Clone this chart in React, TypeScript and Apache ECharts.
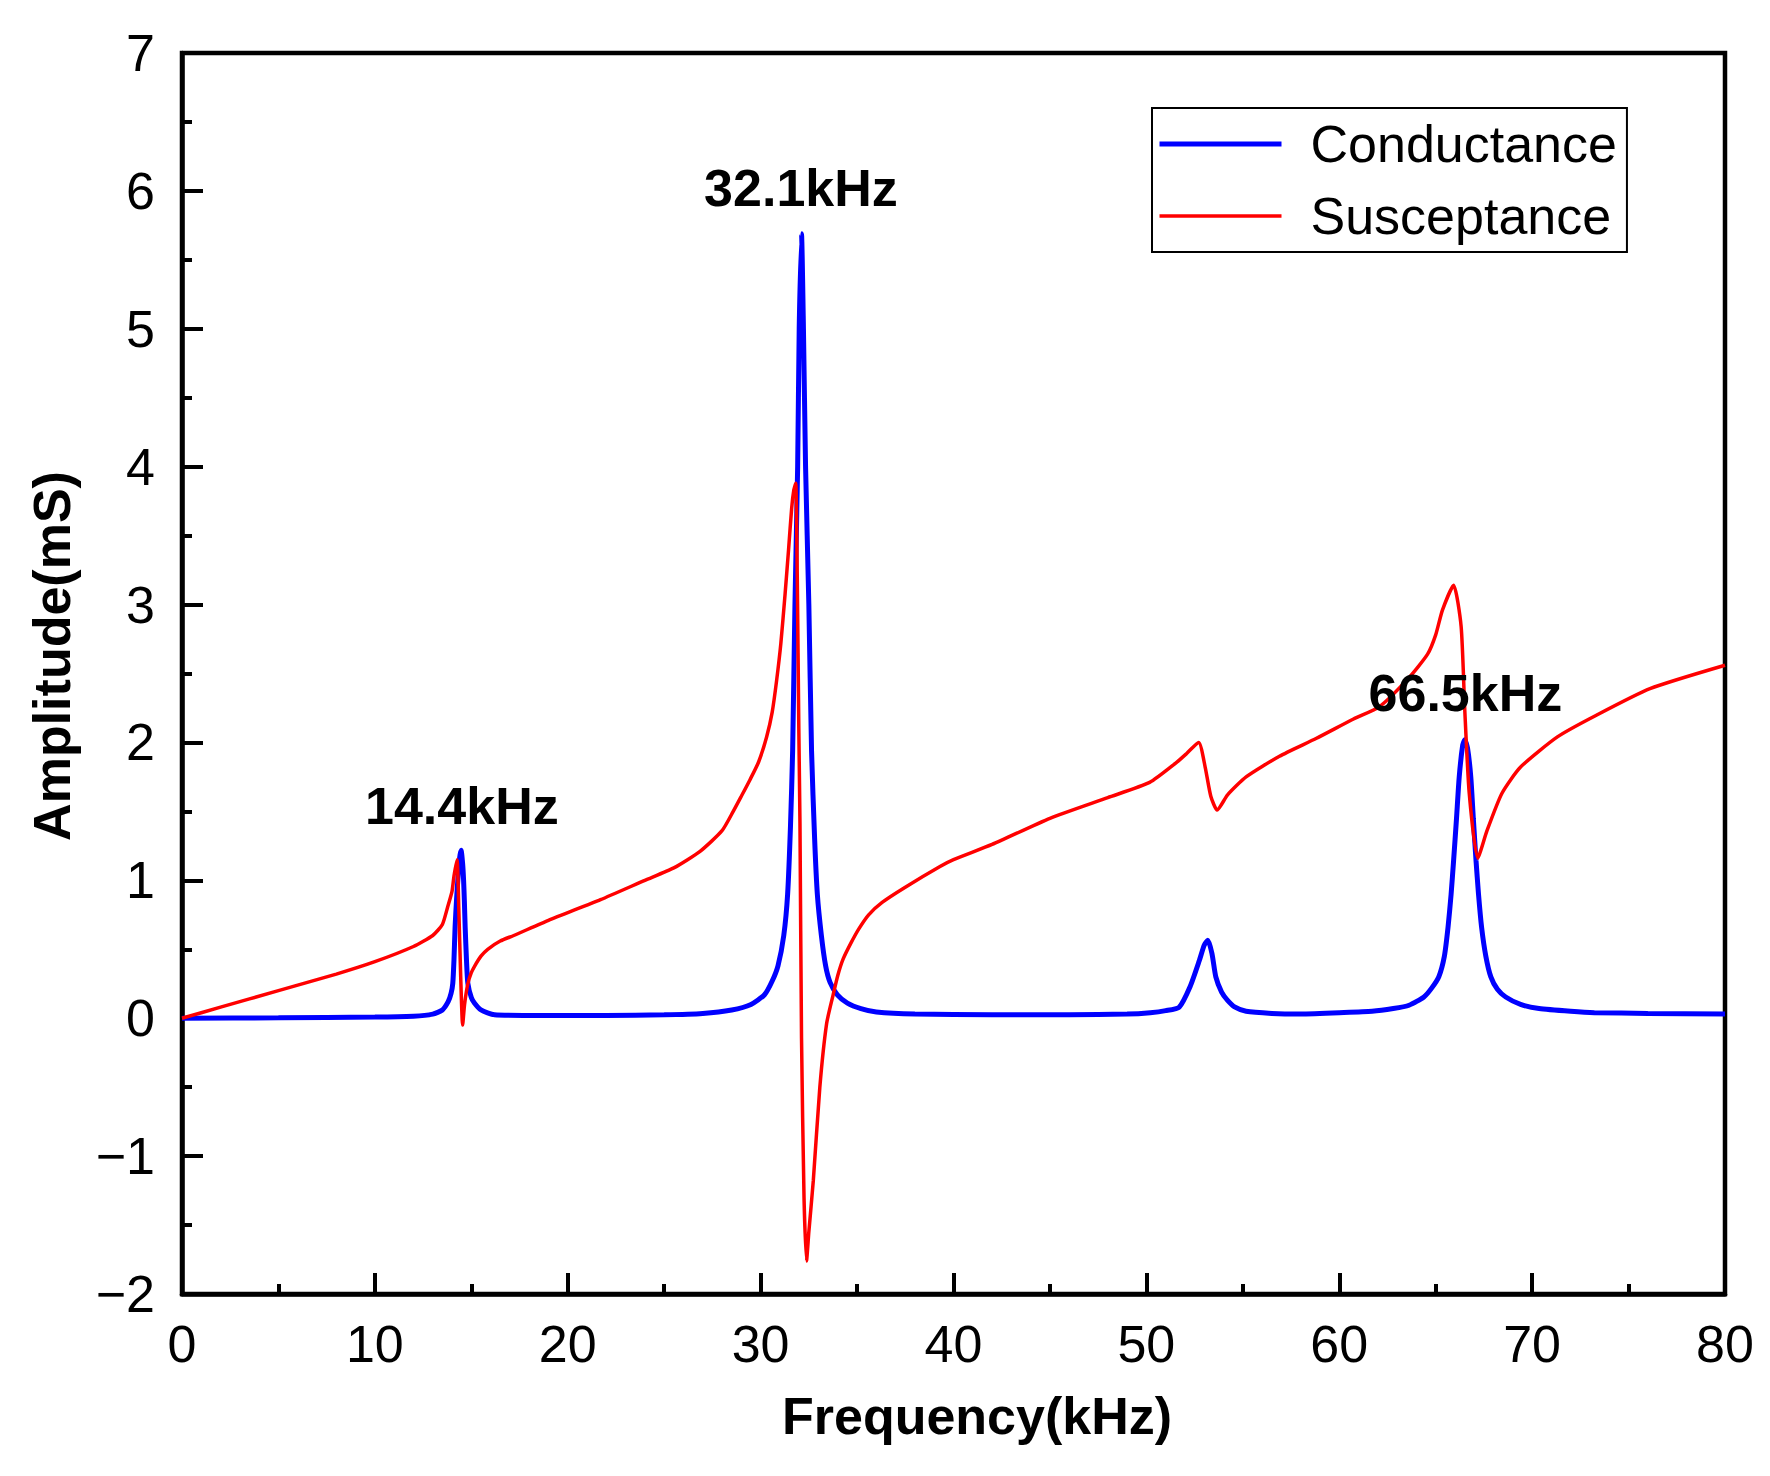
import React, { useEffect, useRef } from "react";
import * as echarts from "echarts";

// Conductance (blue)
const condFreq = [0, 5, 10, 12, 13, 13.5, 13.8, 13.95, 14.04, 14.1, 14.16, 14.23, 14.3, 14.38, 14.47, 14.55, 14.6, 14.64, 14.68, 14.75, 14.82, 15.0, 15.16, 15.5, 16.2, 18, 22, 25, 27, 28.5, 29.5, 30.2, 30.6, 30.9, 31.2, 31.4, 31.55, 31.66, 31.78, 31.92, 32.0, 32.12, 32.22, 32.33, 32.5, 32.64, 32.8, 32.94, 33.15, 33.37, 33.6, 33.98, 34.5, 35.2, 36, 38, 42, 46, 49, 50.2, 51.0, 51.7, 52.27, 52.75, 53.0, 53.19, 53.4, 53.6, 53.9, 54.21, 54.6, 55.17, 56.5, 57.86, 60, 61.7, 62.8, 63.62, 64.39, 64.8, 65.16, 65.45, 65.64, 65.8, 65.93, 66.08, 66.22, 66.4, 66.51, 66.65, 66.82, 66.95, 67.09, 67.22, 67.38, 67.6, 67.86, 68.2, 68.63, 69.4, 70.36, 72, 73.23, 76, 80];
const condValue = [0, 0.003, 0.008, 0.015, 0.03, 0.06, 0.12, 0.18, 0.254, 0.42, 0.665, 0.85, 1.0, 1.15, 1.218, 1.12, 1.0, 0.85, 0.665, 0.42, 0.254, 0.15, 0.11, 0.06, 0.025, 0.02, 0.02, 0.025, 0.035, 0.06, 0.1, 0.17, 0.27, 0.38, 0.6, 0.9, 1.4, 1.94, 3.0, 4.0, 5.0, 5.69, 5.0, 4.0, 3.0, 1.94, 1.3, 0.9, 0.6, 0.38, 0.26, 0.17, 0.11, 0.07, 0.045, 0.03, 0.025, 0.025, 0.03, 0.04, 0.055, 0.08, 0.23, 0.42, 0.53, 0.566, 0.47, 0.3, 0.19, 0.13, 0.08, 0.05, 0.035, 0.03, 0.04, 0.05, 0.07, 0.094, 0.154, 0.22, 0.3, 0.45, 0.66, 0.9, 1.146, 1.45, 1.75, 1.98, 2.02, 1.96, 1.75, 1.45, 1.146, 0.9, 0.66, 0.45, 0.3, 0.21, 0.154, 0.1, 0.07, 0.05, 0.04, 0.035, 0.03];

// Susceptance (red)
const suscFreq = [0, 2, 5, 8, 10, 12, 13, 13.5, 13.78, 14.0, 14.1, 14.26, 14.35, 14.45, 14.55, 14.65, 14.82, 15.0, 15.16, 15.5, 15.85, 16.5, 17.2, 19, 21.7, 24, 25.5, 26.86, 28.0, 28.58, 29.0, 29.45, 29.9, 30.31, 30.6, 30.83, 31.05, 31.27, 31.45, 31.61, 31.72, 31.82, 31.9, 31.98, 32.04, 32.12, 32.25, 32.38, 32.5, 32.73, 33.07, 33.42, 33.76, 34.0, 34.28, 34.7, 35.1, 35.6, 36.3, 37.5, 39.3, 40, 42, 45, 48, 50.17, 51.52, 52.09, 52.71, 53.05, 53.34, 53.67, 54.21, 55.17, 56.9, 58.82, 60.74, 62.09, 63.62, 64.58, 65.0, 65.35, 65.93, 66.32, 66.51, 66.74, 67.18, 67.66, 68.43, 69.39, 71.31, 73.23, 76.11, 80];
const suscValue = [0, 0.08, 0.2, 0.32, 0.41, 0.52, 0.6, 0.68, 0.81, 0.92, 1.03, 1.15, 0.8, 0.3, -0.05, 0.1, 0.25, 0.33, 0.375, 0.45, 0.5, 0.56, 0.6, 0.71, 0.86, 1.0, 1.09, 1.21, 1.36, 1.5, 1.61, 1.73, 1.86, 2.04, 2.22, 2.45, 2.72, 3.08, 3.4, 3.7, 3.83, 3.88, 3.2, 2.1, 1.41, -0.14, -1.3, -1.76, -1.55, -1.18, -0.5, -0.04, 0.17, 0.31, 0.43, 0.55, 0.65, 0.75, 0.84, 0.95, 1.1, 1.15, 1.26, 1.45, 1.6, 1.71, 1.85, 1.92, 2.0, 1.82, 1.61, 1.51, 1.62, 1.75, 1.9, 2.03, 2.17, 2.26, 2.47, 2.64, 2.78, 2.96, 3.14, 2.84, 2.23, 1.63, 1.16, 1.36, 1.63, 1.82, 2.04, 2.19, 2.39, 2.56];

// Peak annotations (label centre in data space)
const annoText = ["14.4kHz", "32.1kHz", "66.5kHz"];
const annoFreq = [14.51, 32.09, 66.54];
const annoValue = [1.54, 6.02, 2.36];

const seriesNames = ["Conductance", "Susceptance"];
const FONT = "'Liberation Sans', Arial, Helvetica, sans-serif";

export default function App() {
  const ref = useRef<HTMLDivElement>(null);
  useEffect(() => {
    if (!ref.current) return;
    const chart = echarts.init(ref.current, null, { renderer: "svg" });
    const condData = condFreq.map((f, i) => [f, condValue[i]]);
    const suscData = suscFreq.map((f, i) => [f, suscValue[i]]);
    const annoData = annoText.map((t, i) => ({ name: t, value: [annoFreq[i], annoValue[i]] }));
    const axisCommon = {
      axisLine: { show: true, onZero: false, lineStyle: { color: "#000", width: 4.5 } },
      axisTick: { show: true, inside: true, length: 21, lineStyle: { color: "#000", width: 4 } },
      minorTick: { show: true, splitNumber: 2, length: 10, lineStyle: { color: "#000", width: 4 } },
      splitLine: { show: false },
      minorSplitLine: { show: false },
    };
    chart.setOption({
      animation: false,
      backgroundColor: "#fff",
      textStyle: { fontFamily: FONT },
      grid: {
        left: 182,
        right: 45,
        top: 53,
        bottom: 182,
        show: true,
        borderColor: "#000",
        borderWidth: 4.5,
        backgroundColor: "transparent",
      },
      legend: {
        data: [
          { name: seriesNames[0], itemStyle: { opacity: 0 }, lineStyle: { width: 5, color: "#0000FF" } },
          { name: seriesNames[1], itemStyle: { opacity: 0 }, lineStyle: { width: 3.5, color: "#FF0000" } },
        ],
        orient: "vertical",
        left: 1152,
        top: 108,
        itemWidth: 122,
        itemHeight: 52,
        itemGap: 20,
        padding: [10, 10, 10, 5],
        borderColor: "#000",
        borderWidth: 2,
        backgroundColor: "#fff",
        itemStyle: { opacity: 0 },
        textStyle: { fontSize: 52, color: "#000", fontFamily: FONT, padding: [0, 0, 0, 24] },
      },
      xAxis: {
        type: "value",
        min: 0,
        max: 80,
        interval: 10,
        ...axisCommon,
        axisLabel: { fontSize: 52, color: "#000", margin: 24, fontFamily: FONT },
      },
      yAxis: {
        type: "value",
        min: -2,
        max: 7,
        interval: 1,
        ...axisCommon,
        axisLabel: {
          fontSize: 52,
          color: "#000",
          margin: 27,
          fontFamily: FONT,
          formatter: (v: number) => String(v).replace("-", "\u2212"),
        },
      },
      graphic: [
        {
          type: "text",
          x: 977,
          y: 1416,
          style: {
            text: "Frequency(kHz)",
            font: `bold 52px ${FONT}`,
            fill: "#000",
            align: "center",
            verticalAlign: "middle",
          },
        },
        {
          type: "text",
          x: 52,
          y: 656,
          rotation: Math.PI / 2,
          style: {
            text: "Amplitude(mS)",
            font: `bold 52px ${FONT}`,
            fill: "#000",
            align: "center",
            verticalAlign: "middle",
          },
        },
      ],
      series: [
        {
          name: seriesNames[0],
          type: "line",
          data: condData,
          symbol: "none",
          smooth: 0.2,
          lineStyle: { color: "#0000FF", width: 5 },
          itemStyle: { color: "#0000FF" },
          z: 2,
        },
        {
          name: seriesNames[1],
          type: "line",
          data: suscData,
          symbol: "none",
          smooth: 0.2,
          lineStyle: { color: "#FF0000", width: 3.5 },
          itemStyle: { color: "#FF0000" },
          z: 3,
        },
        {
          name: "peaks",
          type: "scatter",
          data: annoData,
          symbolSize: 0,
          silent: true,
          z: 5,
          itemStyle: { opacity: 1 },
          label: {
            show: true,
            position: "inside",
            formatter: (p: any) => p.name,
            fontSize: 52,
            fontWeight: "bold",
            color: "#000",
            opacity: 1,
            fontFamily: FONT,
          },
        },
      ],
    });
    return () => chart.dispose();
  }, []);
  return (
    <div
      ref={ref}
      style={{ position: "fixed", left: 0, top: 0, width: 1770, height: 1476, background: "#fff" }}
    />
  );
}
